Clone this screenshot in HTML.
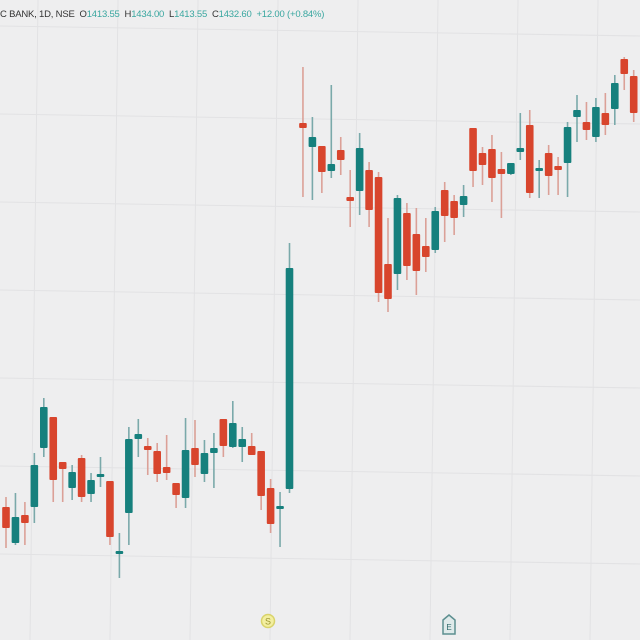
<!DOCTYPE html>
<html><head><meta charset="utf-8">
<style>
html,body{margin:0;padding:0;background:#ededee;}
#c{position:relative;width:640px;height:640px;overflow:hidden;background:#eeeeef;font-family:"Liberation Sans",sans-serif;}
#hdr{position:absolute;left:0;top:9px;font-size:9.5px;color:#333;white-space:nowrap;letter-spacing:-0.2px}
#hdr .v{color:#3aa7a0}
</style></head><body>
<div id="c">
<svg id="svg" width="640" height="640"></svg>
<div id="hdr">C BANK, 1D, NSE &nbsp;O<span class="v">1413.55</span> &nbsp;H<span class="v">1434.00</span> &nbsp;L<span class="v">1413.55</span> &nbsp;C<span class="v">1432.60</span> &nbsp;<span class="v">+12.00 (+0.84%)</span></div>
</div>
<script>
// values in chart units (screen-y reading; larger = lower)
const opens = [507,543,515,507,448,417,462,488,458,494,476,481,553,513,439,446,451,467,483,498,448,474,453,419,447,447,446,451,488,509,489,
123,147,146,171,150,197,191,170,177,264,274,213,234,246,250,190,201,205,128,153,149,169,174,152,125,171,153,166,163,117,122,137,113,109,59,76];
const closes = [528,517,523,465,407,480,469,472,497,480,474,537,551,439,434,450,474,473,495,450,465,453,448,446,423,439,455,496,524,506,268,
128,137,172,164,160,201,148,210,293,299,198,266,271,257,211,216,218,196,171,165,178,174,163,148,193,168,176,170,127,110,130,107,125,83,74,113];
const highs = [497,493,502,453,398,417,462,465,455,473,457,481,533,427,419,438,443,435,483,418,420,440,433,419,401,427,433,451,479,492,243,
67,117,146,85,137,170,133,162,172,218,195,203,208,218,207,182,195,185,128,147,135,152,163,113,110,160,145,157,122,95,102,98,93,75,57,70];
const lows = [548,545,545,523,457,502,502,500,502,502,487,545,578,545,457,475,482,480,508,508,477,482,488,457,448,462,455,510,533,547,493,
197,200,193,178,175,227,215,227,302,312,290,280,295,272,253,242,235,217,187,185,202,218,175,160,198,198,195,195,197,142,140,142,135,125,90,122];

function xScale(i){ return 6 + i*9.45 + (i>=31?4:0); }
function yScale(v){ return 0 + (v-0)*1; }

const svg=document.getElementById('svg');
const NS='http://www.w3.org/2000/svg';
for(let k=0;k<9;k++){
  const l=document.createElementNS(NS,'line');
  
  
  const x=38+k*80;
  l.setAttribute('x1',x);l.setAttribute('x2',x-8);l.setAttribute('y1',0);l.setAttribute('y2',640);
  l.setAttribute('stroke','#e2e2e4');l.setAttribute('stroke-width','1');
  svg.appendChild(l);
}
for(let k=0;k<8;k++){
  const l=document.createElementNS(NS,'line');
  
  
  const y=30+k*88;
  l.setAttribute('x1',0);l.setAttribute('x2',640);l.setAttribute('y1',y-4);l.setAttribute('y2',y+6);
  l.setAttribute('stroke','#e2e2e4');l.setAttribute('stroke-width','1');
  svg.appendChild(l);
}
for(let i=0;i<opens.length;i++){
  const up=closes[i]<opens[i];
  const col=up?'#16807d':'#d8452d';
  const wcol=up?'#7aa9aa':'#dba097';
  const x=xScale(i);
  const g=document.createElementNS(NS,'g');
  
  
  const w=document.createElementNS(NS,'line');
  
  
  w.setAttribute('x1',x);w.setAttribute('x2',x);
  w.setAttribute('y1',yScale(highs[i]));w.setAttribute('y2',yScale(lows[i]));
  w.setAttribute('stroke',wcol);w.setAttribute('stroke-width','1.6');
  g.appendChild(w);
  const r=document.createElementNS(NS,'rect');
  
  
  const t=Math.min(yScale(opens[i]),yScale(closes[i]));
  const h=Math.max(3,Math.abs(yScale(opens[i])-yScale(closes[i])));
  r.setAttribute('x',x-3.8);r.setAttribute('y',t);r.setAttribute('width',7.6);r.setAttribute('height',h);
  r.setAttribute('rx','1');r.setAttribute('fill',col);
  g.appendChild(r);
  svg.appendChild(g);
}
const s=document.createElementNS(NS,'g');


s.innerHTML='<circle cx="268" cy="621" r="6.5" fill="#f3efa0" stroke="#d9d36a" stroke-width="1.5"/><text x="268" y="624.5" font-size="9" text-anchor="middle" fill="#9b9430" font-family="Liberation Sans">S</text>';
svg.appendChild(s);
const e=document.createElementNS(NS,'g');


e.innerHTML='<path d="M443 620 L449 615 L455 620 L455 634 L443 634 Z" fill="#dfeaea" stroke="#5d8f90" stroke-width="1.5"/><text x="449" y="630" font-size="8" text-anchor="middle" fill="#2f6a6b" font-family="Liberation Sans">E</text>';
svg.appendChild(e);
</script>
</body></html>
